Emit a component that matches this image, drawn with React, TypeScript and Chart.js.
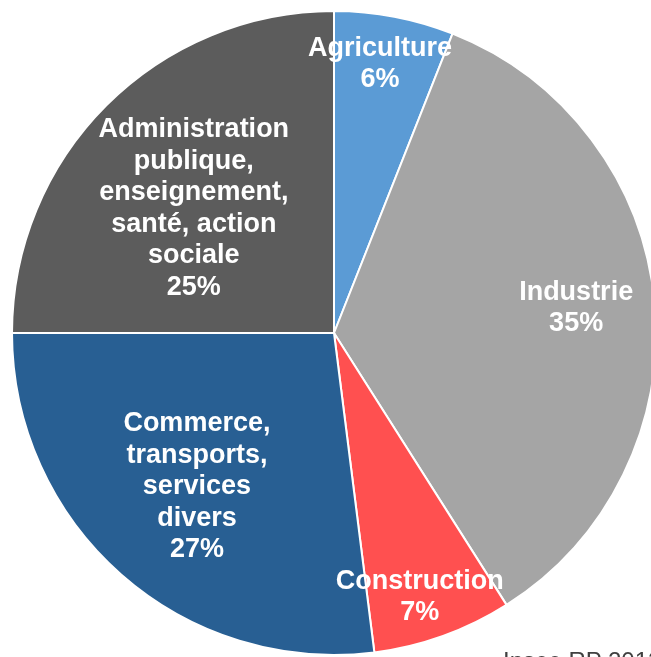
import React, { useEffect, useRef } from "react";
import { Chart, registerables } from "chart.js";

Chart.register(...registerables);

const categories: string[][] = [
  ["Agriculture"],
  ["Industrie"],
  ["Construction"],
  ["Commerce,", "transports,", "services", "divers"],
  ["Administration", "publique,", "enseignement,", "santé, action", "sociale"],
];
const values: number[] = [6, 35, 7, 27, 25];
const colors: string[] = ["#5B9BD5", "#A5A5A5", "#FF5050", "#285F93", "#5C5C5C"];
const sourceText = "Insee RP 2012";

// label anchor: [radius fraction, angle shift in degrees]
const labelAnchors: [number, number][] = [
  [0.848, -1.1],
  [0.756, -0.5],
  [0.862, 1.8],
  [0.64, 0.3],
  [0.582, -3.4],
];

const labelPlugin = {
  id: "sliceLabels",
  afterDatasetsDraw(chart: any) {
    const ctx = chart.ctx;
    const meta = chart.getDatasetMeta(0);
    const total = values.reduce((a, b) => a + b, 0);
    ctx.save();
    ctx.fillStyle = "#FFFFFF";
    ctx.font = "bold 27px 'Liberation Sans', Arial, sans-serif";
    ctx.textAlign = "center";
    ctx.textBaseline = "middle";
    const lineH = 31.5;
    meta.data.forEach((arc: any, i: number) => {
      const { x, y, startAngle, endAngle, outerRadius } = arc.getProps(
        ["x", "y", "startAngle", "endAngle", "outerRadius"],
        true
      );
      const [frac, shift] = labelAnchors[i];
      const mid = (startAngle + endAngle) / 2 + (shift * Math.PI) / 180;
      const cx = x + Math.cos(mid) * outerRadius * frac;
      const cy = y + Math.sin(mid) * outerRadius * frac;
      const pct = Math.round((values[i] / total) * 100) + "%";
      const lines = [...categories[i], pct];
      const n = lines.length;
      lines.forEach((t, k) => {
        ctx.fillText(t, cx, cy + (k - (n - 1) / 2) * lineH);
      });
    });
    ctx.restore();
  },
};

export default function App() {
  const ref = useRef<HTMLCanvasElement | null>(null);
  useEffect(() => {
    if (!ref.current) return;
    const chart = new Chart(ref.current, {
      type: "pie",
      data: {
        labels: categories.map((c) => c.join(" ")),
        datasets: [
          {
            data: values,
            backgroundColor: colors,
            borderColor: "#FFFFFF",
            borderWidth: 2,
            hoverOffset: 0,
          },
        ],
      },
      options: {
        responsive: false,
        animation: false,
        events: [],
        layout: { padding: { left: 11, top: 10, right: 43, bottom: 44 } },
        plugins: {
          legend: { display: false },
          tooltip: { enabled: false },
        },
      },
      plugins: [labelPlugin],
    });
    return () => chart.destroy();
  }, []);
  return (
    <div
      style={{
        position: "absolute",
        left: 0,
        top: 0,
        width: 651,
        height: 657,
        overflow: "hidden",
        background: "#FFFFFF",
      }}
    >
      <canvas
        ref={ref}
        width={700}
        height={700}
        style={{ position: "absolute", left: 0, top: 0, width: 700, height: 700 }}
      />
      <div
        style={{
          position: "absolute",
          left: 503,
          top: 649,
          fontFamily: "'Liberation Sans', Arial, sans-serif",
          fontSize: 24,
          lineHeight: "24px",
          color: "#404040",
          whiteSpace: "nowrap",
        }}
      >
        {sourceText}
      </div>
    </div>
  );
}
